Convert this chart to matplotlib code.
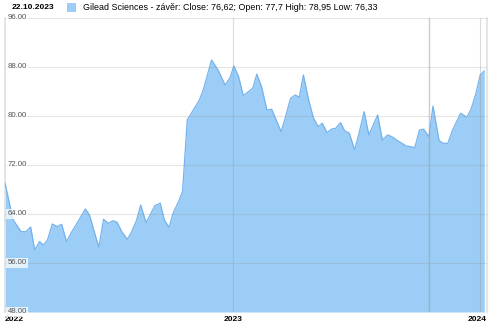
import numpy as np
import pandas as pd
import matplotlib
matplotlib.use('Agg')
import matplotlib.pyplot as plt
import matplotlib.transforms as mtransforms

plt.rcParams['font.family'] = ['Liberation Sans', 'DejaVu Sans']

# ------------------- data (weekly close) -------------------
dates = [
    '2022-01-28', '2022-02-09', '2022-02-21', '2022-02-28', '2022-03-07', '2022-03-13',
    '2022-03-20', '2022-03-26', '2022-04-01', '2022-04-08', '2022-04-15', '2022-04-22',
    '2022-04-29', '2022-05-07', '2022-05-15', '2022-05-27', '2022-06-02', '2022-06-16',
    '2022-06-23', '2022-06-30', '2022-07-07', '2022-07-13', '2022-07-20', '2022-07-28',
    '2022-08-03', '2022-08-11', '2022-08-17', '2022-08-25', '2022-08-31', '2022-09-07',
    '2022-09-15', '2022-09-21', '2022-09-28', '2022-10-04', '2022-10-12', '2022-10-18',
    '2022-10-25', '2022-11-03', '2022-11-12', '2022-11-18', '2022-11-30', '2022-12-10',
    '2022-12-20', '2022-12-27',
    '2023-01-02', '2023-01-09', '2023-01-16', '2023-01-30', '2023-02-05', '2023-02-12',
    '2023-02-20', '2023-02-27', '2023-03-13', '2023-03-19', '2023-03-27', '2023-04-03',
    '2023-04-09', '2023-04-15', '2023-04-23', '2023-04-30', '2023-05-07', '2023-05-13',
    '2023-05-20', '2023-05-27', '2023-06-02', '2023-06-09', '2023-06-15', '2023-06-22',
    '2023-06-30', '2023-07-07', '2023-07-14', '2023-07-21', '2023-08-03', '2023-08-10',
    '2023-08-18', '2023-08-24', '2023-09-02', '2023-09-08', '2023-09-14', '2023-09-21',
    '2023-09-27', '2023-10-04', '2023-10-10', '2023-10-18', '2023-10-24', '2023-11-02',
    '2023-11-08', '2023-11-15', '2023-11-22', '2023-12-04', '2023-12-13', '2023-12-19',
    '2023-12-26', '2024-01-02', '2024-01-08',
]
close = [
    69.06, 63.02, 61.11, 61.11, 61.88, 58.12,
    59.48, 58.94, 59.76, 62.37, 61.93, 62.32,
    59.48, 61.11, 62.53, 64.82, 63.84, 58.56,
    63.13, 62.48, 62.91, 62.65, 61.11, 59.87,
    60.95, 63.02, 65.47, 62.58, 63.84, 65.36,
    65.75, 63.02, 61.83, 64.11, 66.01, 67.64,
    79.35, 80.98, 82.61, 84.36, 89.14, 87.40,
    85.06, 86.16,
    88.16, 86.42, 83.31, 84.52, 86.81, 84.78,
    80.98, 81.09, 77.44, 79.62, 82.89, 83.43,
    83.05, 86.69, 82.50, 79.62, 78.25, 78.81,
    77.27, 77.88, 77.99, 78.91, 77.60, 77.18,
    74.45, 77.44, 80.70, 76.90, 80.16, 76.08,
    76.90, 76.62, 75.92, 75.54, 75.10, 74.99,
    74.82, 77.71, 77.83, 76.62, 81.63, 75.97,
    75.54, 75.54, 77.71, 80.44, 79.79, 80.98,
    83.43, 86.69, 87.35,
]
y_ticks = [48, 56, 64, 72, 80, 88, 96]
year_ticks = ['2022-01-01', '2023-01-01', '2024-01-01']
cursor_date = '2023-10-18'
x_range = ('2022-01-28', '2024-01-12')

header_date = '22.10.2023'
legend_text = 'Gilead Sciences - závěr: Close: 76,62; Open: 77,7 High: 78,95 Low: 76,33'

# ------------------- plot -------------------
x = pd.to_datetime(dates)
fill_c = '#9BCDF6'
line_c = '#74B3EC'

fig = plt.figure(figsize=(5.0, 3.26), dpi=100)
ax = fig.add_axes([0.01, 0.043, 0.964, 0.902])

ax.fill_between(x, close, 48, color=fill_c, lw=0, zorder=2)
ax.plot(x, close, color=line_c, lw=0.9, zorder=3)

ax.set_ylim(48, 96)
ax.set_xlim(pd.Timestamp(x_range[0]), pd.Timestamp(x_range[1]))

# horizontal grid over the fill
for v in y_ticks:
    ax.axhline(v, color='#999999', lw=0.8, alpha=0.25, zorder=4)

# year lines + cursor
yt = pd.to_datetime(year_ticks)
for d in yt[1:]:
    ax.axvline(d, color='#999999', lw=0.8, alpha=0.35, zorder=4)
ax.axvline(pd.Timestamp(cursor_date), color='#999999', lw=1.0, alpha=0.5, zorder=4)

# y labels inside the plot
trans = mtransforms.blended_transform_factory(ax.transAxes, ax.transData)
for v in y_ticks:
    ax.text(0.005, v, f'{v:.2f}', transform=trans, fontsize=5.6, color='#555555',
            ha='left', va='center', zorder=6,
            bbox=dict(boxstyle='square,pad=0.15', fc='white', ec='none', alpha=0.75))

ax.set_yticks([])
ax.set_xticks([])
for s in ['top', 'bottom']:
    ax.spines[s].set_visible(False)
for s in ['left', 'right']:
    ax.spines[s].set_color('#e0e0e0')
    ax.spines[s].set_linewidth(1.2)

# year labels below
xtrans = mtransforms.blended_transform_factory(ax.transData, ax.transAxes)
ax.text(0.0, -0.012, '2022', transform=ax.transAxes, fontsize=6, fontweight='bold',
        ha='left', va='top')
ax.text(yt[1], -0.012, '2023', transform=xtrans, fontsize=6, fontweight='bold',
        ha='center', va='top')
ax.text(1.0, -0.012, '2024', transform=ax.transAxes, fontsize=6, fontweight='bold',
        ha='right', va='top')

# header
fig.text(0.024, 0.977, header_date, fontsize=6, fontweight='bold', ha='left', va='center')
fig.patches.append(plt.Rectangle((0.134, 0.962), 0.018, 0.028, transform=fig.transFigure,
                                 fc=fill_c, ec='none'))
fig.text(0.166, 0.977, legend_text, fontsize=6.4, ha='left', va='center')

fig.savefig('out.png', dpi=100)
